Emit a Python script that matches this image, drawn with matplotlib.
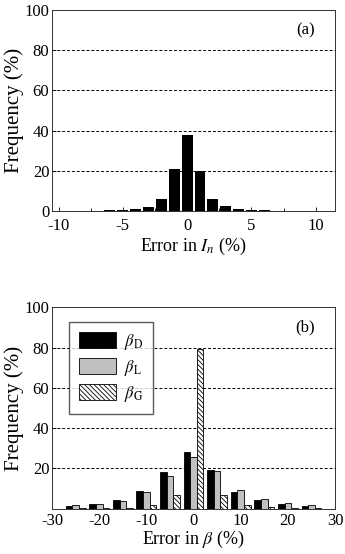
import numpy as np
import matplotlib.pyplot as plt
from matplotlib.ticker import MultipleLocator

plt.rcParams['font.family'] = ['Liberation Serif', 'DejaVu Serif']
plt.rcParams['mathtext.fontset'] = 'stix'
plt.rcParams['axes.unicode_minus'] = False
plt.rcParams['hatch.linewidth'] = 0.6

# panel (a): error in I_n
err_a = [-7, -6, -5, -4, -3, -2, -1, 0, 1, 2, 3, 4, 5, 6, 7]
freq_a = [0.1, 0.3, 0.6, 1.1, 2.1, 6.2, 21, 38, 20, 6, 2.3, 1.1, 0.6, 0.3, 0.1]

# panel (b): error in beta
err_b = [-25, -20, -15, -10, -5, 0, 5, 10, 15, 20, 25]
beta_D = [1.3, 2.3, 4.3, 8.7, 18.2, 28.2, 19.2, 8.4, 4.3, 2.1, 1.1]
beta_L = [1.6, 2.5, 3.8, 8.0, 16.1, 25.4, 18.9, 9.0, 4.9, 2.8, 2.0]
beta_G = [0.1, 0.5, 0.5, 1.6, 6.9, 79.2, 6.9, 1.8, 0.6, 0.3, 0.1]

fig = plt.figure(figsize=(3.45, 5.54), dpi=100)
ax1 = fig.add_axes([0.151, 0.619, 0.82, 0.363])
ax2 = fig.add_axes([0.151, 0.082, 0.82, 0.363])

for ax in (ax1, ax2):
    ax.set_ylim(0, 100)
    ax.yaxis.set_major_locator(MultipleLocator(20))
    for y in (20, 40, 60, 80):
        ax.axhline(y, color='black', ls=(0, (3, 2)), lw=0.7, zorder=0)
    ax.tick_params(direction='in', labelsize=12, length=3, width=0.6, pad=2)
    ax.tick_params(which='minor', direction='in', length=2, width=0.6)
    for s in ax.spines.values():
        s.set_linewidth(0.7)
        s.set_color('#333333')
    ax.set_ylabel('Frequency (%)', fontsize=15, labelpad=0)

# (a)
ax1.bar(err_a, freq_a, width=0.85, color='black', zorder=2)
ax1.set_xlim(-10.5, 11.5)
ax1.set_xticks([-10, -5, 0, 5, 10])
ax1.xaxis.set_minor_locator(MultipleLocator(2.5))
ax1.tick_params(axis='x', pad=5)
ax1.set_xlabel('Error in $I_n$ (%)', fontsize=13, labelpad=1)
ax1.text(0.93, 0.9, '(a)', transform=ax1.transAxes, ha='right', va='center', fontsize=12)

# (b)
x = np.array(err_b)
w = 1.4
ax2.bar(x - w, beta_D, width=w, color='black', edgecolor='black', lw=0.6, zorder=2,
        label=r'$\beta_{\mathrm{D}}$')
ax2.bar(x, beta_L, width=w, color='#c0c0c0', edgecolor='black', lw=0.6, zorder=2,
        label=r'$\beta_{\mathrm{L}}$')
ax2.bar(x + w, beta_G, width=w, color='white', edgecolor='black', lw=0.6,
        hatch='\\\\\\\\\\\\\\', zorder=2, label=r'$\beta_{\mathrm{G}}$')
ax2.set_xlim(-30, 30)
ax2.set_xticks([-30, -20, -10, 0, 10, 20, 30])
ax2.xaxis.set_minor_locator(MultipleLocator(5))
ax2.tick_params(axis='x', pad=3)
ax2.set_yticks([20, 40, 60, 80, 100])
ax2.set_xlabel(r'Error in $\beta$ (%)', fontsize=13, labelpad=0)
ax2.text(0.93, 0.9, '(b)', transform=ax2.transAxes, ha='right', va='center', fontsize=12)
ax2.legend(loc='upper left', bbox_to_anchor=(0.03, 0.97), fontsize=12, frameon=True,
           fancybox=False, edgecolor='#333333', handlelength=2.2, handleheight=1.1,
           labelspacing=0.35, borderpad=0.6, handletextpad=0.5)

plt.savefig('out.png', dpi=100)
